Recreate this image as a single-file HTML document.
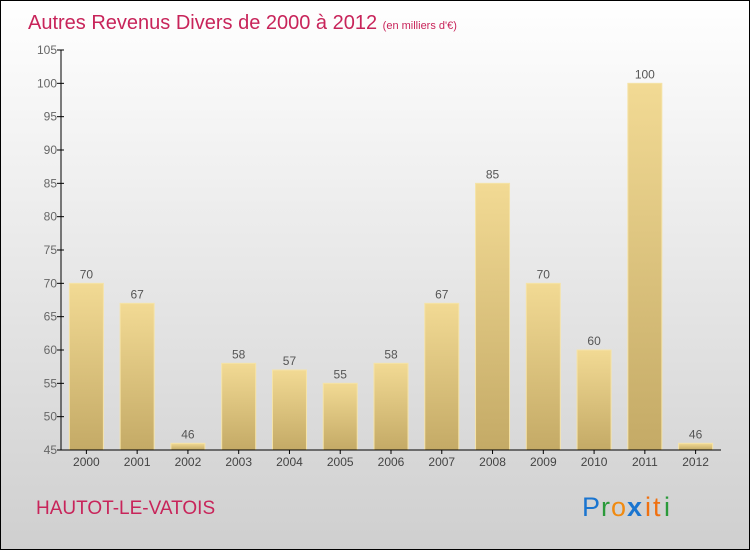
<!DOCTYPE html>
<html><head><meta charset="utf-8"><style>
body{margin:0;width:750px;height:550px;overflow:hidden;font-family:"Liberation Sans",sans-serif}
</style></head><body>
<svg width="750" height="550" xmlns="http://www.w3.org/2000/svg">
<defs>
<linearGradient id="bg" x1="0" y1="0" x2="0" y2="1"><stop offset="0" stop-color="#ffffff"/><stop offset="1" stop-color="#cfcfcf"/></linearGradient>
<linearGradient id="bar" x1="0" y1="0" x2="0" y2="1"><stop offset="0" stop-color="#f2da94"/><stop offset="1" stop-color="#c4aa66"/></linearGradient>
</defs>
<rect x="0.5" y="0.5" width="749" height="549" fill="url(#bg)" stroke="#000"/>
<text x="28" y="29" font-size="20" fill="#c8245a">Autres Revenus Divers de 2000 à 2012 <tspan font-size="11">(en milliers d'€)</tspan></text>
<g id="plot"></g>
<text x="36" y="514" font-size="19" fill="#c8245a">HAUTOT-LE-VATOIS</text>
<g font-size="27" font-family="'Liberation Sans',sans-serif">
<text x="582" y="516" fill="#1a75d0">P</text><text x="601" y="516" fill="#2a9a3a">r</text><text x="611" y="516" fill="#f08a10">o</text><text x="627" y="516" fill="#1a75d0" font-weight="bold">x</text><text x="645" y="516" fill="#f07010">i</text><text x="653" y="516" fill="#f07010">t</text><text x="664" y="516" fill="#2a9a3a">i</text>
</g>
</svg>
<script>
const categories=["2000","2001","2002","2003","2004","2005","2006","2007","2008","2009","2010","2011","2012"];
const values=[70,67,46,58,57,55,58,67,85,70,60,100,46];
const yTicks=[45,50,55,60,65,70,75,80,85,90,95,100,105];
const NS="http://www.w3.org/2000/svg";
const g=document.getElementById('plot');
const x0=61,x1=721,yTop=50,yBot=450,yMin=45,yMax=105;
const y=v=>yBot-(v-yMin)/(yMax-yMin)*(yBot-yTop);
const step=(x1-x0)/categories.length;
const xc=i=>x0+step*(i+0.5);
function mk(t,a){const e=document.createElementNS(NS,t);for(const k in a)e.setAttribute(k,a[k]);g.appendChild(e);return e;}
values.forEach((v,i)=>{
 const r=mk('rect',{x:xc(i)-17,y:y(v),width:34,height:yBot-y(v),fill:'url(#bar)',stroke:'#f5e3a8','stroke-width':1});
 
 
 const t=mk('text',{x:xc(i),y:y(v)-5,'text-anchor':'middle','font-size':12,fill:'#555'});
 t.textContent=v;
 
 
 const c=mk('text',{x:xc(i),y:466,'text-anchor':'middle','font-size':12,fill:'#444'});
 c.textContent=categories[i];
 
 
 const tk=mk('line',{x1:xc(i),x2:xc(i),y1:yBot,y2:yBot+4,stroke:'#000'});
 
 
});
yTicks.forEach(v=>{
 const l=mk('line',{x1:x0-4,x2:x0+3,y1:y(v),y2:y(v),stroke:'#000'});
 
 
 const t=mk('text',{x:x0-4,y:y(v)+4,'text-anchor':'end','font-size':12,fill:'#666'});
 t.textContent=v;
 
 
});
const ya=mk('line',{x1:x0,x2:x0,y1:yTop,y2:yBot,stroke:'#000'});


const xa=mk('line',{x1:x0,x2:x1,y1:yBot,y2:yBot,stroke:'#000'});


</script>
</body></html>
